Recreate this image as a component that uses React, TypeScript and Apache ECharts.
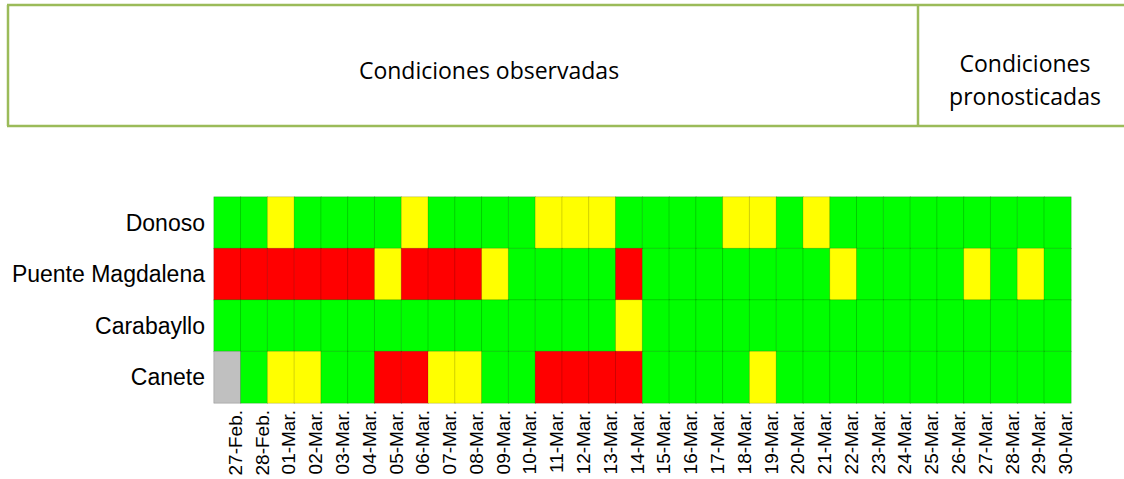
import React, { useEffect, useRef } from "react";
import * as echarts from "echarts";

const dates = [
  "27-Feb.", "28-Feb.", "01-Mar.", "02-Mar.", "03-Mar.", "04-Mar.", "05-Mar.", "06-Mar.",
  "07-Mar.", "08-Mar.", "09-Mar.", "10-Mar.", "11-Mar.", "12-Mar.", "13-Mar.", "14-Mar.",
  "15-Mar.", "16-Mar.", "17-Mar.", "18-Mar.", "19-Mar.", "20-Mar.", "21-Mar.", "22-Mar.",
  "23-Mar.", "24-Mar.", "25-Mar.", "26-Mar.", "27-Mar.", "28-Mar.", "29-Mar.", "30-Mar.",
];

const stations = ["Donoso", "Puente Magdalena", "Carabayllo", "Canete"];

// 0 = sin dato (gris), 1 = normal (verde), 2 = alerta (amarillo), 3 = crítico (rojo)
const donoso = [1, 1, 2, 1, 1, 1, 1, 2, 1, 1, 1, 1, 2, 2, 2, 1, 1, 1, 1, 2, 2, 1, 2, 1, 1, 1, 1, 1, 1, 1, 1, 1];
const puenteMagdalena = [3, 3, 3, 3, 3, 3, 2, 3, 3, 3, 2, 1, 1, 1, 1, 3, 1, 1, 1, 1, 1, 1, 1, 2, 1, 1, 1, 1, 2, 1, 2, 1];
const carabayllo = [1, 1, 1, 1, 1, 1, 1, 1, 1, 1, 1, 1, 1, 1, 1, 2, 1, 1, 1, 1, 1, 1, 1, 1, 1, 1, 1, 1, 1, 1, 1, 1];
const canete = [0, 1, 2, 2, 1, 1, 3, 3, 2, 2, 1, 1, 3, 3, 3, 3, 1, 1, 1, 1, 2, 1, 1, 1, 1, 1, 1, 1, 1, 1, 1, 1];

const rows = [donoso, puenteMagdalena, carabayllo, canete];
const levelColors = ["#C0C0C0", "#00FF00", "#FFFF00", "#FF0000"];

const headerObserved = "Condiciones observadas";
const headerForecast = "Condiciones\npronosticadas";

export default function App() {
  const ref = useRef<HTMLDivElement>(null);

  useEffect(() => {
    if (!ref.current) return;
    const chart = echarts.init(ref.current, null, { renderer: "svg" });

    const data: number[][] = [];
    rows.forEach((row, yi) => {
      row.forEach((v, xi) => data.push([xi, yi, v]));
    });

    const lineColor = "#9BBB59";
    const headerFont = "'Open Sans', 'Noto Sans', sans-serif";
    const labelFont = "'Liberation Sans', Arial, sans-serif";

    chart.setOption({
      animation: false,
      backgroundColor: "#ffffff",
      grid: [
        { left: 214, top: 197, width: 857, height: 206, containLabel: false },
        { left: 222, top: 197, width: 857, height: 206, containLabel: false },
      ],
      xAxis: [
        {
          type: "category",
          data: dates,
          gridIndex: 0,
          axisLine: { show: false },
          axisTick: { show: false },
          splitLine: { show: false },
          axisLabel: { show: false },
        },
        {
          type: "category",
          data: dates,
          gridIndex: 1,
          position: "bottom",
          axisLine: { show: false },
          axisTick: { show: false },
          splitLine: { show: false },
          axisLabel: {
            rotate: 90,
            interval: 0,
            margin: 7,
            fontSize: 19,
            fontFamily: labelFont,
            color: "#000000",
          },
        },
      ],
      yAxis: [
        {
          type: "category",
          data: stations,
          gridIndex: 0,
          inverse: true,
          axisLine: { show: false },
          axisTick: { show: false },
          splitLine: { show: false },
          axisLabel: {
            margin: 9,
            fontSize: 23,
            fontFamily: labelFont,
            color: "#000000",
          },
        },
        {
          type: "category",
          data: stations,
          gridIndex: 1,
          inverse: true,
          show: false,
        },
      ],
      visualMap: {
        type: "piecewise",
        show: false,
        dimension: 2,
        seriesIndex: 0,
        pieces: levelColors.map((c, i) => ({ value: i, color: c })),
      },
      series: [
        {
          type: "heatmap",
          xAxisIndex: 0,
          yAxisIndex: 0,
          data,
          itemStyle: { borderColor: "rgba(0,0,0,0.16)", borderWidth: 1 },
          emphasis: { disabled: true },
        },
      ],
      graphic: [
        { type: "line", shape: { x1: 7, y1: 5, x2: 1124, y2: 5 }, style: { stroke: lineColor, lineWidth: 2.5 } },
        { type: "line", shape: { x1: 7, y1: 126, x2: 1124, y2: 126 }, style: { stroke: lineColor, lineWidth: 2.5 } },
        { type: "line", shape: { x1: 8, y1: 5, x2: 8, y2: 126 }, style: { stroke: lineColor, lineWidth: 2.5 } },
        { type: "line", shape: { x1: 918, y1: 5, x2: 918, y2: 126 }, style: { stroke: lineColor, lineWidth: 2.5 } },
        {
          type: "text",
          x: 489,
          y: 70,
          style: {
            text: headerObserved,
            fontSize: 23,
            fontFamily: headerFont,
            fill: "#000000",
            align: "center",
            verticalAlign: "middle",
            textAlign: "center",
            textVerticalAlign: "middle",
          },
        },
        {
          type: "text",
          x: 1025,
          y: 79,
          style: {
            text: headerForecast,
            fontSize: 23,
            lineHeight: 33,
            fontFamily: headerFont,
            fill: "#000000",
            align: "center",
            verticalAlign: "middle",
            textAlign: "center",
            textVerticalAlign: "middle",
          },
        },
      ],
    });

    return () => chart.dispose();
  }, []);

  return (
    <div
      ref={ref}
      style={{ position: "fixed", left: 0, top: 0, width: 1124, height: 479, background: "#fff" }}
    />
  );
}
